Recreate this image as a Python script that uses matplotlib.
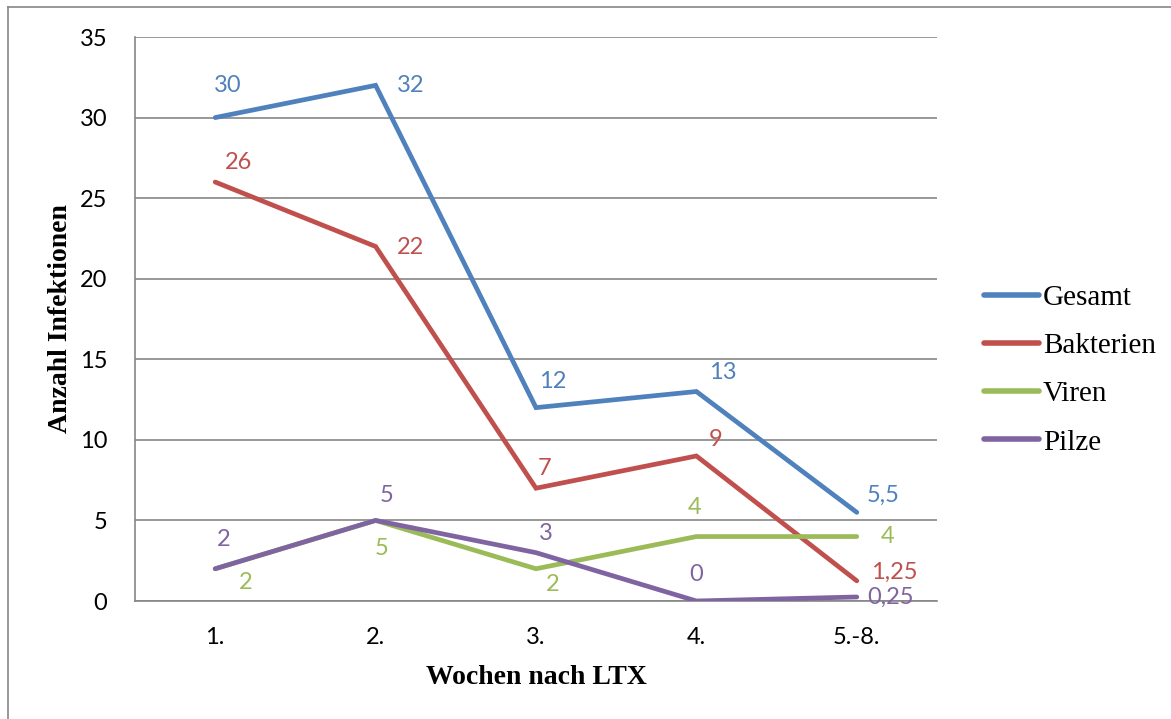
import matplotlib
matplotlib.use("Agg")
import matplotlib.pyplot as plt
from matplotlib.lines import Line2D

# Infektionen pro Woche nach Lebertransplantation
weeks = ["1.", "2.", "3.", "4.", "5.-8."]
gesamt = [30, 32, 12, 13, 5.5]
bakterien = [26, 22, 7, 9, 1.25]
viren = [2, 5, 2, 4, 4]
pilze = [2, 5, 3, 0, 0.25]

series = [
    ("Gesamt", gesamt, "#4F81BD"),
    ("Bakterien", bakterien, "#C0504D"),
    ("Viren", viren, "#9BBB59"),
    ("Pilze", pilze, "#8064A2"),
]

# label offsets (points) per series and point
offsets = {
    "Gesamt": [(9, 23), (25, 0), (12, 19), (19, 14), (19, 12)],
    "Bakterien": [(17, 14), (25, -1), (6, 14), (14, 12), (27, 6)],
    "Viren": [(22, -10), (4, -20), (12, -11), (-1, 21), (22, 0)],
    "Pilze": [(6, 21), (8, 18), (7, 14), (0, 19), (24, 0)],
}

def fmt(v):
    s = f"{v:g}"
    return s.replace(".", ",")

label_font = "Lato"
serif = "Liberation Serif"

fig = plt.figure(figsize=(11.71, 7.19), dpi=100)
ax = fig.add_axes([135 / 1171, 1 - 601 / 719, 802 / 1171, 564 / 719])

x = list(range(len(weeks)))
for name, vals, color in series:
    ax.plot(x, vals, color=color, linewidth=3.4, solid_capstyle="round",
            solid_joinstyle="miter", label=name, zorder=3)
    for xi, v, (dx, dy) in zip(x, vals, offsets[name]):
        ax.annotate(fmt(v), (xi, v), xytext=(dx, dy), textcoords="offset points",
                    ha="center", va="center", color=color, fontsize=17,
                    family=label_font, zorder=4)

ax.set_xlim(-0.5, 4.5)
ax.set_ylim(0, 35)
ax.set_yticks(range(0, 36, 5))
ax.set_xticks(x)
ax.set_xticklabels(weeks)
ax.yaxis.grid(True, color="#868686", linewidth=1.2)
ax.set_axisbelow(True)
ax.tick_params(length=0, labelsize=17)
ax.tick_params(axis="y", pad=20)
ax.tick_params(axis="x", pad=19)
for lab in ax.get_xticklabels() + ax.get_yticklabels():
    lab.set_family(label_font)

for side in ["top", "right"]:
    ax.spines[side].set_visible(False)
for side in ["left", "bottom"]:
    ax.spines[side].set_color("#868686")
    ax.spines[side].set_linewidth(1.2)

ax.set_xlabel("Wochen nach LTX", family=serif, fontweight="bold", fontsize=20, labelpad=12)
ax.set_ylabel("Anzahl Infektionen", family=serif, fontweight="bold", fontsize=20, labelpad=5)

handles = [Line2D([], [], color=c, linewidth=4, solid_capstyle="round") for _, _, c in series]
fig.legend(handles, [n for n, _, _ in series], loc="center left",
           bbox_to_anchor=(984 / 1171, 1 - 370 / 719), frameon=False,
           prop={"family": serif, "size": 21}, handlelength=1.9,
           handletextpad=0.12, labelspacing=0.75, borderpad=0, borderaxespad=0)

# outer frame (left and top edge)
fig.add_artist(Line2D([8 / 1171, 8 / 1171], [0, 1 - 7 / 719], color="#868686",
                      linewidth=1.2, transform=fig.transFigure))
fig.add_artist(Line2D([8 / 1171, 1], [1 - 7 / 719, 1 - 7 / 719], color="#868686",
                      linewidth=1.2, transform=fig.transFigure))

fig.savefig("out.png", dpi=100)
